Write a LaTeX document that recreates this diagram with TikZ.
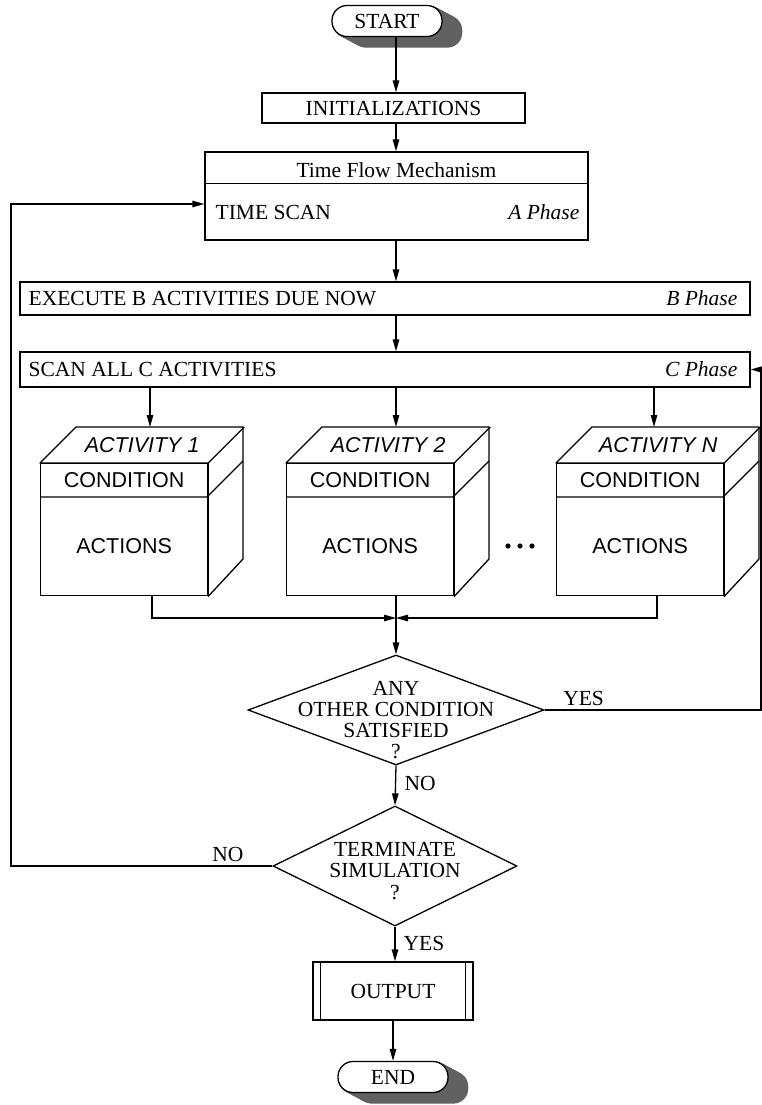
\documentclass[tikz,border=0pt]{standalone}
\usepackage{fontspec}
\setmainfont{Liberation Serif}
\setsansfont{Liberation Sans}
\usetikzlibrary{arrows.meta,shapes.geometric,calc,backgrounds}
\newcommand\myfs{\fontsize{21.5}{21.3}\selectfont}
\definecolor{shadowc}{gray}{0.38}
\newcommand\pillshadow[1]{%
  \begin{scope}[on background layer]
  \foreach \i in {1,...,14}{%
    \fill[shadowc, rounded corners=15pt] ($(#1.south west)+(1.4*\i,0.75*\i)$) rectangle ($(#1.north east)+(1.4*\i,0.75*\i)$);}
  \end{scope}}
\newcommand\mycube[3]{%
  \node[draw, minimum width=167pt, minimum height=132pt, anchor=north west] (#1) at (#2,463) {};
  \draw[face] (#1.north west) -- ++(36,-36) -- ++(167,0) -- ++(0,132) -- (#1.south east) -- (#1.north east) -- cycle;
  \draw[face] (#1.north east) -- ++(36,-36);
  \draw[face] ($(#1.north west)+(0,34)$) -- ++(167,0) -- ++(36,-36);
  \node[act] (#1a) at ($(#1.north)+(18,-18)$) {#3};
  \node[sans] (#1c) at ($(#1.north)+(0,17)$) {CONDITION};
  \node[sans] (#1b) at ($(#1.north)+(0,83)$) {ACTIONS};
}
\begin{document}
\begin{tikzpicture}[x=1pt,y=-1pt, line width=1.3pt,
  every node/.style={inner sep=0pt, font=\myfs},
  arr/.style={-{Triangle[length=12pt,width=6.5pt]}},
  pill/.style={draw, fill=white, rounded corners=15pt, minimum width=110pt, minimum height=31pt},
  rbox/.style={draw, rectangle},
  face/.style={line join=round},
  act/.style={font=\sffamily\itshape\myfs},
  sans/.style={font=\sffamily\myfs},
  dia/.style={draw, diamond, inner sep=0pt},
  lbl/.style={font=\myfs}]
\useasboundingbox (0,0) rectangle (762,1105);
\coordinate (col) at (396,0);

% START
\node[pill] (start) at (387,21) {START};
\pillshadow{start}

% INITIALIZATIONS
\node[rbox, minimum width=263pt, minimum height=30pt] (init) at (393.5,108) {INITIALIZATIONS};

% Time flow mechanism
\node[rbox, minimum width=383pt, minimum height=88pt] (tf) at (396.5,196) {};
\draw ([yshift=-32pt]tf.north west) -- ([yshift=-32pt]tf.north east);
\node[lbl] (tft) at (396.5,170) {Time Flow Mechanism};
\node[lbl, anchor=west] (ts) at (215,212) {TIME SCAN};
\node[lbl, anchor=east] (ap) at (580,212) {\itshape A Phase};

% B phase
\node[rbox, minimum width=730pt, minimum height=33pt] (bbox) at (385,298.5) {};
\node[lbl, anchor=west] (bt) at (28,298.5) {EXECUTE B ACTIVITIES DUE NOW};
\node[lbl, anchor=east] (bp) at (738,298.5) {\itshape B Phase};

% C phase
\node[rbox, minimum width=730pt, minimum height=35pt] (cbox) at (385,369.5) {};
\node[lbl, anchor=west] (ct) at (28,369.5) {SCAN ALL C ACTIVITIES};
\node[lbl, anchor=east] (cp) at (738,369.5) {\itshape C Phase};

% main arrows
\draw[arr] (start.south -| col) -- (init.north -| col);
\draw[arr] (init.south -| col) -- (tf.north -| col);
\draw[arr] (tf.south -| col) -- (bbox.north -| col);
\draw[arr] (bbox.south -| col) -- (cbox.north -| col);

% cubes
\mycube{c1}{40}{ACTIVITY 1}
\mycube{c2}{286}{ACTIVITY 2}
\mycube{cN}{556}{ACTIVITY N}
\foreach \xx in {508,520,532} \fill (\xx,546) circle (2.6pt);

\coordinate (t1) at (150,427);
\coordinate (t2) at (396,427);
\coordinate (tN) at (654,427);
\draw[arr] (cbox.south -| t1) -- (t1);
\draw[arr] (cbox.south -| t2) -- (t2);
\draw[arr] (cbox.south -| tN) -- (tN);

\coordinate (j) at (396,618);
\coordinate (e1) at (152,618);
\coordinate (eN) at (657,618);
\draw[arr] (c1.south -| e1) -- (e1) -- (j);
\draw[arr] (cN.south -| eN) -- (eN) -- (j);
\draw (c2.south -| j) -- (j);

% decision: any other condition
\node[dia, minimum width=296pt, minimum height=110pt] (any) at (396,710) {};
\node[lbl, align=center] (anyt) at (396,720) {ANY\\OTHER CONDITION\\SATISFIED\\?};
\draw[arr] (j) -- (any.north);

% YES loop back to C phase
\coordinate (rp) at (761,369.5);
\draw[arr] (any.east) -- (any.east -| rp) -- (rp) -- (rp -| cbox.east);
\node[lbl, anchor=south west] (yes1) at ($(any.east)+(18,-4)$) {YES};

% decision: terminate
\node[dia, minimum width=244pt, minimum height=120pt] (term) at (395,866) {};
\node[lbl, align=center] (termt) at (395,871) {TERMINATE\\SIMULATION\\?};
\draw[arr] (any.south) -- (term.north);
\node[lbl, anchor=west] (no1) at (404,783) {NO};

% NO loop back to time scan
\coordinate (lp) at (11,204);
\draw[arr] (term.west) -- (term.west -| lp) -- (lp) -- (lp -| tf.west);
\node[lbl, anchor=south] (no2) at (228,862) {NO};

% output
\node[rbox, minimum width=160pt, minimum height=58pt] (out) at (393,991) {OUTPUT};
\draw ([xshift=8pt]out.north west) -- ([xshift=8pt]out.south west);
\draw ([xshift=-8pt]out.north east) -- ([xshift=-8pt]out.south east);
\draw[arr] (term.south) -- (term.south |- out.north);
\node[lbl, anchor=west] (yes2) at (403,943) {YES};

% END
\node[pill] (end) at (393,1077) {END};
\pillshadow{end}
\draw[arr] (out.south) -- (end.north);
\end{tikzpicture}
\end{document}
